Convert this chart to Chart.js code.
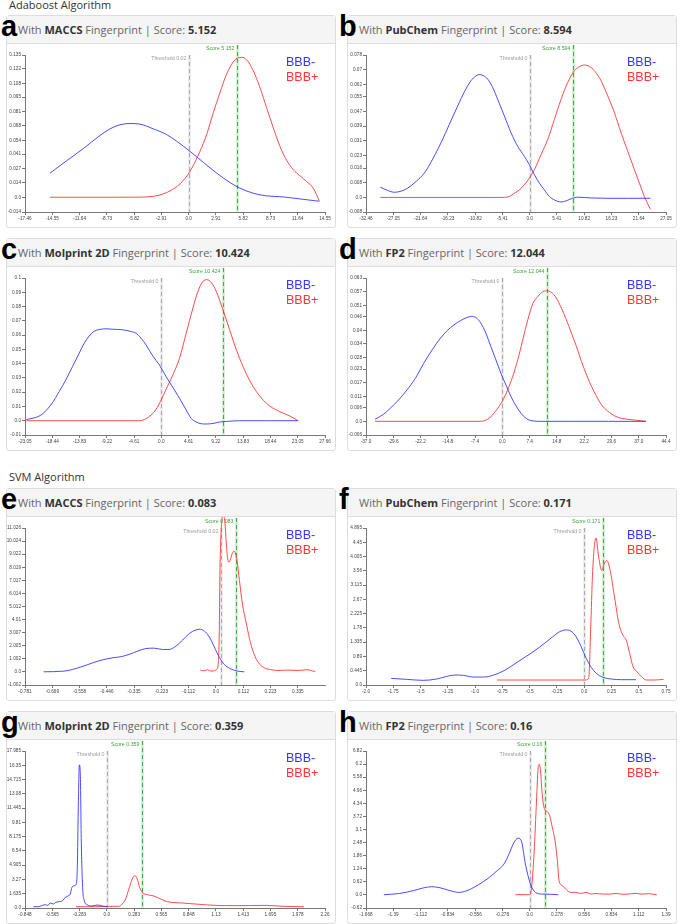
<!DOCTYPE html>
<html><head><meta charset="utf-8">
<script src="https://cdn.jsdelivr.net/npm/chart.js@4.4.1/dist/chart.umd.min.js"></script>
<style>
html,body{margin:0;padding:0;background:#fff}
body{width:685px;height:924px;position:relative;overflow:hidden;font-family:"Open Sans",sans-serif}
.sec{position:absolute;left:9px;font-size:11px;line-height:15px;color:#333;white-space:nowrap}
.box{position:absolute;width:330px;height:213px;border:1px solid #ddd;border-radius:3px;box-sizing:border-box;background:#fff}
.hdr{height:28px;background:#f5f5f5;border-bottom:1px solid #ddd;font-size:11px;color:#666;padding-left:11px;line-height:27px;box-sizing:border-box;white-space:nowrap}
.hdr b{color:#333}
.lt{position:absolute;font:bold 29px "Liberation Sans",Arial,sans-serif;line-height:29px;color:#000}
canvas{position:absolute}
</style>
</head><body>
<div class="sec" style="top:-3.5px">Adaboost Algorithm</div>
<div class="sec" style="top:468.5px">SVM Algorithm</div>
<script>
// ---------- panel meta ----------
const panelLetters = ['a','b','c','d','e','f','g','h'];
const fingerprints = ['MACCS','PubChem','Molprint 2D','FP2','MACCS','PubChem','Molprint 2D','FP2'];
const scores = [5.152, 8.594, 10.424, 12.044, 0.083, 0.171, 0.359, 0.16];
const scoreLabels = ['5.152','8.594','10.424','12.044','0.083','0.171','0.359','0.16'];
const thresholds = [0.02, 0, 0, 0, 0.02, 0, 0, 0];
const thresholdLabels = ['0.02','0','0','0','0.02','0','0','0'];
const seriesNames = ['BBB-','BBB+'];

// ---------- tick labels ----------
const xTicksA = ['-17.46','-14.55','-11.64','-8.73','-5.82','-2.91','0.0','2.91','5.82','8.73','11.64','14.55'];
const yTicksA = ['-0.014','0.0','0.014','0.027','0.041','0.054','0.068','0.081','0.095','0.108','0.122','0.135'];
const xTicksB = ['-32.46','-27.05','-21.64','-16.23','-10.82','-5.41','0.0','5.41','10.82','16.23','21.64','27.05'];
const yTicksB = ['-0.008','0.0','0.008','0.016','0.023','0.031','0.039','0.047','0.055','0.062','0.07','0.078'];
const xTicksC = ['-23.05','-18.44','-13.83','-9.22','-4.61','0.0','4.61','9.22','13.83','18.44','23.05','27.66'];
const yTicksC = ['-0.01','0.0','0.01','0.02','0.03','0.04','0.05','0.06','0.07','0.08','0.09','0.1'];
const xTicksD = ['-37.0','-29.6','-22.2','-14.8','-7.4','0.0','7.4','14.8','22.2','29.6','37.0','44.4'];
const yTicksD = ['-0.006','0.0','0.006','0.011','0.017','0.023','0.028','0.034','0.04','0.046','0.051','0.057','0.063'];
const xTicksE = ['-0.781','-0.669','-0.558','-0.446','-0.335','-0.223','-0.112','0.0','0.112','0.223','0.335'];
const yTicksE = ['-1.002','0.0','1.002','2.005','3.007','4.01','5.012','6.014','7.017','8.019','9.022','10.024','11.026'];
const xTicksF = ['-2.0','-1.75','-1.5','-1.25','-1.0','-0.75','-0.5','-0.25','0.0','0.25','0.5','0.75'];
const yTicksF = ['0.0','0.445','0.89','1.335','1.78','2.225','2.67','3.115','3.56','4.005','4.45','4.895'];
const xTicksG = ['-0.848','-0.565','-0.283','0.0','0.283','0.565','0.848','1.13','1.413','1.695','1.978','2.26'];
const yTicksG = ['0.0','1.635','3.27','4.905','6.54','8.175','9.81','11.445','13.08','14.715','16.35','17.985'];
const xTicksH = ['-1.668','-1.39','-1.112','-0.834','-0.556','-0.278','0.0','0.278','0.556','0.834','1.112','1.39'];
const yTicksH = ['-0.62','0.0','0.62','1.24','1.86','2.48','3.1','3.72','4.34','4.96','5.58','6.2','6.82'];
const xMaxE = 0.446;

// ---------- series (BBB- = blue, BBB+ = red) ----------
const blueXA = [-14.79,-13.01,-11.24,-9.46,-8.39,-7.33,-6.26,-5.19,-3.77,-2.35,-1.28,0.14,1.57,2.99,4.41,5.48,6.90,8.32,10.10,11.88,13.94];
const blueYA = [0.0229,0.0347,0.0462,0.0586,0.0649,0.0688,0.0700,0.0694,0.0649,0.0595,0.0532,0.0436,0.0331,0.0229,0.0140,0.0086,0.0038,0.0013,0.0003,-0.0016,-0.0038];
const redXA = [-14.79,-11.24,-7.68,-5.19,-4.12,-3.06,-1.99,-0.92,0.14,1.21,1.92,2.63,3.34,4.05,4.77,5.30,5.66,6.19,6.90,7.61,8.32,9.03,9.74,10.46,11.17,11.88,12.59,13.30,13.94];
const redYA = [0,0,0,0.0001,0.0005,0.0022,0.0060,0.0127,0.0245,0.0436,0.0595,0.0802,0.0993,0.1168,0.1286,0.1324,0.1328,0.1305,0.1200,0.1041,0.0850,0.0659,0.0484,0.0350,0.0261,0.0204,0.0150,0.0086,-0.0035];

const blueXB = [-29.62,-28.16,-26.84,-25.52,-24.19,-22.54,-20.89,-19.23,-17.58,-15.93,-14.27,-12.95,-11.63,-10.63,-9.97,-9.11,-8.32,-7.33,-6.34,-5.01,-3.69,-2.37,-1.05,-0.05,0.94,1.93,2.92,3.92,4.91,6.23,7.22,8.21,9.54,12.18,15.49,19.46,23.95];
const blueYB = [0.0056,0.0038,0.0028,0.0034,0.0051,0.0087,0.0133,0.0210,0.0299,0.0400,0.0501,0.0578,0.0639,0.0666,0.0673,0.0666,0.0648,0.0602,0.0537,0.0446,0.0354,0.0280,0.0225,0.0179,0.0124,0.0078,0.0041,0.0005,-0.0014,-0.0025,-0.0019,-0.0008,0.0001,-0.0003,-0.0005,-0.0005,-0.0005];
const redXB = [-29.62,-17.58,-5.01,-4.02,-3.03,-2.04,-1.05,-0.05,0.94,2.26,3.58,4.91,6.23,7.55,8.87,9.87,10.86,11.85,12.84,14.17,15.49,16.81,18.14,19.46,20.78,21.77,22.76,23.95];
const redYB = [0,0,0,0.0005,0.0023,0.0041,0.0069,0.0106,0.0152,0.0234,0.0317,0.0427,0.0537,0.0629,0.0694,0.0716,0.0725,0.0718,0.0694,0.0639,0.0556,0.0464,0.0354,0.0253,0.0152,0.0078,0.0005,-0.0065];

const blueXC = [-22.82,-21.24,-20.11,-18.41,-17.28,-16.15,-15.02,-13.89,-13.04,-12.20,-11.35,-10.50,-9.37,-8.24,-6.54,-5.13,-4.28,-3.43,-2.59,-1.46,-0.33,0.80,1.94,3.07,4.20,5.05,5.89,6.74,7.59,8.72,9.85,10.98,13.24,17.76,23.13];
const blueYC = [0.0009,0.0023,0.0047,0.0126,0.0204,0.0286,0.0379,0.0473,0.0543,0.0594,0.0627,0.0639,0.0644,0.0641,0.0637,0.0625,0.0613,0.0578,0.0531,0.0454,0.0391,0.0309,0.0234,0.0157,0.0075,0.0016,-0.0009,-0.0021,-0.0023,-0.0019,-0.0009,-0.0005,0,0,0];
const redXC = [-22.82,-3.72,-2.59,-1.74,-0.89,-0.04,0.80,1.94,3.07,4.20,5.33,6.18,7.02,7.70,8.44,9.28,10.41,11.54,12.68,13.81,14.94,16.07,17.20,18.33,20.03,21.72,23.13];
const redYC = [0,0,0.0014,0.0040,0.0080,0.0145,0.0220,0.0321,0.0438,0.0613,0.0789,0.0906,0.0976,0.0988,0.0969,0.0906,0.0777,0.0637,0.0496,0.0379,0.0281,0.0204,0.0145,0.0103,0.0063,0.0033,0];

const blueXD = [-34.54,-32.26,-30.44,-28.17,-25.89,-23.61,-21.34,-19.06,-16.78,-14.96,-13.14,-11.32,-9.50,-8.40,-7.22,-5.85,-4.49,-3.12,-1.75,-0.39,0.98,2.34,3.71,5.08,6.44,7.81,10.54,19.65,28.76,38.96];
const blueYD = [0.0009,0.0031,0.0057,0.0094,0.0138,0.0189,0.0255,0.0314,0.0366,0.0399,0.0424,0.0443,0.0457,0.0461,0.0457,0.0432,0.0388,0.0329,0.0270,0.0211,0.0160,0.0109,0.0068,0.0035,0.0013,0.0003,0,0,0,0];
const redXD = [-34.54,-5.85,-4.03,-2.66,-1.30,0.07,1.43,2.80,4.17,5.53,6.90,8.26,9.63,11.00,11.91,13.27,14.64,16.01,17.37,18.74,20.10,21.47,22.84,24.20,25.57,26.94,28.76,30.58,32.40,35.13,38.96];
const redYD = [0,0,0.0009,0.0028,0.0057,0.0091,0.0138,0.0197,0.0270,0.0358,0.0446,0.0517,0.0549,0.0570,0.0574,0.0567,0.0542,0.0498,0.0446,0.0388,0.0329,0.0263,0.0204,0.0153,0.0109,0.0072,0.0043,0.0023,0.0013,0.0007,0];

const blueXE = [-0.705,-0.622,-0.554,-0.499,-0.458,-0.424,-0.390,-0.356,-0.321,-0.287,-0.253,-0.219,-0.192,-0.164,-0.137,-0.109,-0.082,-0.064,-0.048,-0.027,-0.007,0.014,0.034,0.062,0.089,0.116];
const blueYE = [0.01,0.06,0.37,0.73,0.95,1.08,1.16,1.34,1.59,1.79,1.82,1.72,1.72,1.97,2.43,2.94,3.22,3.27,3.14,2.68,1.92,1.11,0.57,0.22,0.06,0.01];
const redXE = [-0.064,-0.048,-0.034,-0.021,-0.007,0.004,0.010,0.014,0.016,0.021,0.026,0.031,0.037,0.042,0.048,0.053,0.059,0.066,0.073,0.079,0.086,0.096,0.109,0.123,0.137,0.150,0.171,0.198,0.226,0.253,0.294,0.335,0.376,0.390,0.406];
const redYE = [0.14,0.09,0.17,0.06,0.09,0.22,0.78,3.57,7.39,10.70,11.92,12.02,11.34,9.94,8.66,8.41,8.61,9.05,9.25,9.12,8.54,7.01,5.11,3.83,2.56,1.67,0.78,0.32,0.17,0.11,0.14,0.11,0.17,0.09,0.04];

const blueXF = [-1.769,-1.630,-1.476,-1.353,-1.260,-1.183,-1.106,-1.014,-0.921,-0.829,-0.736,-0.644,-0.551,-0.459,-0.366,-0.289,-0.228,-0.166,-0.120,-0.073,-0.027,0.019,0.065,0.112,0.173,0.250,0.343,0.475];
const blueYF = [0.207,0.176,0.145,0.186,0.269,0.311,0.300,0.248,0.248,0.311,0.445,0.642,0.849,1.056,1.294,1.501,1.656,1.718,1.677,1.501,1.190,0.828,0.549,0.362,0.238,0.186,0.166,0.166];
const redXF = [-0.798,-0.397,0.004,0.041,0.062,0.078,0.108,0.133,0.161,0.186,0.207,0.238,0.278,0.318,0.355,0.386,0.417,0.448,0.485,0.525,0.571,0.636,0.728];
const redYF = [0.155,0.155,0.155,0.207,2.019,3.571,4.586,3.986,3.571,3.799,3.882,3.571,2.743,1.915,1.553,1.398,0.983,0.569,0.414,0.259,0.155,0.155,0.176];

const blueXG = [-0.761,-0.709,-0.674,-0.640,-0.612,-0.588,-0.553,-0.529,-0.494,-0.459,-0.431,-0.404,-0.379,-0.362,-0.338,-0.320,-0.306,-0.296,-0.285,-0.275,-0.265,-0.251,-0.233,-0.206,-0.154,-0.101,-0.067,-0.032,0.003];
const blueYG = [0.15,0.15,0.27,0.38,0.30,0.57,0.46,0.65,0.72,0.84,1.22,1.37,1.60,2.36,2.55,2.67,4.65,11.51,16.39,15.32,7.70,2.36,0.84,0.38,0.23,0.34,0.30,0.19,0.15];
const redXG = [-0.320,-0.119,0.020,0.124,0.159,0.194,0.228,0.263,0.291,0.315,0.340,0.367,0.419,0.489,0.558,0.628,0.784,0.958,1.131,1.305,1.478,1.652,1.826,2.041];
const redYG = [0.15,0.15,0.19,0.19,0.46,1.03,2.17,3.32,3.70,3.32,2.36,1.79,1.52,1.37,1.03,0.72,0.57,0.42,0.30,0.27,0.28,0.30,0.19,0.15];

const blueXH = [-1.486,-1.325,-1.188,-1.085,-0.999,-0.914,-0.811,-0.725,-0.640,-0.537,-0.434,-0.331,-0.262,-0.211,-0.160,-0.118,-0.084,-0.043,0.008,0.060,0.128,0.217,0.293];
const blueYH = [0.01,0.07,0.20,0.33,0.39,0.34,0.20,0.12,0.20,0.44,0.75,1.15,1.46,1.93,2.48,2.69,2.56,1.46,0.52,0.12,0.04,0.03,0.01];
const redXH = [-0.146,-0.009,0.015,0.043,0.067,0.087,0.098,0.111,0.128,0.152,0.180,0.204,0.231,0.259,0.283,0.300,0.334,0.385,0.420,0.471,0.523,0.574,0.626,0.677,0.745,0.814,0.883,0.951,1.003,1.075,1.143,1.212,1.297];
const redYH = [0.01,0.01,0.20,1.78,4.14,6.03,6.19,5.87,4.77,4.06,3.95,3.75,3.20,2.56,1.62,0.67,0.44,0.20,0.12,0.12,0.07,0.12,0.04,0.07,0.04,0.04,0.07,0.03,0.04,0.07,0.04,0.06,0.0];

const panelTicks = [[xTicksA,yTicksA],[xTicksB,yTicksB],[xTicksC,yTicksC],[xTicksD,yTicksD],[xTicksE,yTicksE],[xTicksF,yTicksF],[xTicksG,yTicksG],[xTicksH,yTicksH]];
const panelSeries = [
  [blueXA,blueYA,redXA,redYA],[blueXB,blueYB,redXB,redYB],[blueXC,blueYC,redXC,redYC],[blueXD,blueYD,redXD,redYD],
  [blueXE,blueYE,redXE,redYE],[blueXF,blueYF,redXF,redYF],[blueXG,blueYG,redXG,redYG],[blueXH,blueYH,redXH,redYH]
];

// ---------- layout ----------
const boxPos = [[6,15],[347,15],[6,238],[347,238],[6,488],[347,488],[6,711],[347,711]];
const BLUE = '#3535ff', RED = '#ff3535';
const LINE_BLUE = 'rgba(45,45,255,0.85)', LINE_RED = 'rgba(255,45,45,0.85)';

const zip = (xs, ys) => xs.map((x, i) => ({x: x, y: ys[i]}));

const markerPlugin = {
  id: 'markers',
  beforeDatasetsDraw(chart, args, opts) {
    const ctx = chart.ctx, ca = chart.chartArea, xs = chart.scales.x;
    function vline(v, top, halo, col) {
      const px = Math.round(xs.getPixelForValue(v)) + 0.5;
      ctx.save();
      ctx.strokeStyle = halo; ctx.lineWidth = 2.5;
      ctx.beginPath(); ctx.moveTo(px, top); ctx.lineTo(px, ca.bottom); ctx.stroke();
      ctx.strokeStyle = col; ctx.lineWidth = 1; ctx.setLineDash([4, 3]);
      ctx.beginPath(); ctx.moveTo(px, top); ctx.lineTo(px, ca.bottom); ctx.stroke();
      ctx.restore();
      return px;
    }
    const tp = vline(opts.threshold, ca.top, 'rgba(215,215,215,0.55)', '#aaa');
    const sp = vline(opts.score, ca.top - 10, 'rgba(130,205,130,0.4)', '#46a846');
    ctx.save();
    ctx.font = '5.3px "Liberation Sans", Arial, sans-serif';
    ctx.textAlign = 'right'; ctx.textBaseline = 'middle';
    ctx.fillStyle = '#999';
    ctx.fillText('Threshold ' + opts.thresholdLabel, tp - 3, ca.top + 3.5);
    ctx.fillStyle = '#3ea33e';
    ctx.fillText('Score ' + opts.scoreLabel, sp - 3, ca.top - 6.5);
    ctx.restore();
  },
  afterDraw(chart) {
    const ctx = chart.ctx, ca = chart.chartArea;
    ctx.save();
    ctx.font = '12.5px "Liberation Sans", Arial, sans-serif';
    ctx.textAlign = 'left'; ctx.textBaseline = 'alphabetic';
    ctx.fillStyle = BLUE; ctx.fillText(seriesNames[0], ca.right - 39, ca.top + 11);
    ctx.fillStyle = RED; ctx.fillText(seriesNames[1], ca.right - 39, ca.top + 26);
    ctx.restore();
  }
};

const tickFont = {size: 4.7, family: '"Liberation Sans", Arial, sans-serif'};

for (let i = 0; i < 8; i++) {
  const [bx, by] = boxPos[i];
  const box = document.createElement('div');
  box.className = 'box';
  box.style.left = bx + 'px'; box.style.top = by + 'px';
  const hdr = document.createElement('div');
  hdr.className = 'hdr';
  hdr.innerHTML = 'With <b>' + fingerprints[i] + '</b> Fingerprint | Score: <b>' + scoreLabels[i] + '</b>';
  box.appendChild(hdr);
  document.body.appendChild(box);

  const lt = document.createElement('div');
  lt.className = 'lt';
  lt.textContent = panelLetters[i];
  lt.style.left = (i % 2 === 0 ? 1 : 339) + 'px';
  lt.style.top = (by - 3.5) + 'px';

  const cv = document.createElement('canvas');
  cv.width = 328; cv.height = 183;
  cv.style.left = (bx + 1) + 'px'; cv.style.top = (by + 29) + 'px';
  cv.style.width = '328px'; cv.style.height = '183px';
  document.body.appendChild(cv);
  document.body.appendChild(lt);

  const [xt, yt] = panelTicks[i];
  const [bxs, bys, rxs, rys] = panelSeries[i];
  const xVals = xt.map(Number), yVals = yt.map(Number);
  const xMax = (i === 4) ? xMaxE : xVals[xVals.length - 1];

  new Chart(cv, {
    type: 'line',
    data: {datasets: [
      {label: seriesNames[0], data: zip(bxs, bys), borderColor: LINE_BLUE, borderWidth: 1, pointRadius: 0, fill: false, cubicInterpolationMode: 'monotone', clip: false},
      {label: seriesNames[1], data: zip(rxs, rys), borderColor: LINE_RED, borderWidth: 1, pointRadius: 0, fill: false, cubicInterpolationMode: 'monotone', clip: false}
    ]},
    options: {
      responsive: false, animation: false, devicePixelRatio: 1, events: [],
      layout: {padding: {left: 0, top: 11, right: 10, bottom: 0}, autoPadding: false},
      plugins: {
        legend: {display: false}, tooltip: {enabled: false},
        markers: {threshold: thresholds[i], thresholdLabel: thresholdLabels[i], score: scores[i], scoreLabel: scoreLabels[i]}
      },
      scales: {
        x: {
          type: 'linear', min: xVals[0], max: xMax,
          afterBuildTicks: s => { s.ticks = xVals.map(v => ({value: v})); },
          afterFit: s => { s.height = 15; s.paddingLeft = 0; s.paddingRight = 0; },
          ticks: {callback: (v, k) => xt[k], font: tickFont, color: '#444', padding: 1, maxRotation: 0, autoSkip: false},
          grid: {display: true, drawOnChartArea: false, drawTicks: true, tickLength: 3, color: '#777'},
          border: {display: true, color: '#777', width: 1}
        },
        y: {
          type: 'linear', min: yVals[0], max: yVals[yVals.length - 1],
          afterBuildTicks: s => { s.ticks = yVals.map(v => ({value: v})); },
          afterFit: s => { s.width = 18; s.paddingTop = 0; s.paddingBottom = 0; },
          ticks: {callback: (v, k) => yt[k], font: tickFont, color: '#444', padding: 1, autoSkip: false},
          grid: {display: true, drawOnChartArea: false, drawTicks: true, tickLength: 3, color: '#777'},
          border: {display: true, color: '#777', width: 1}
        }
      }
    },
    plugins: [markerPlugin]
  });
}
</script>
</body></html>
